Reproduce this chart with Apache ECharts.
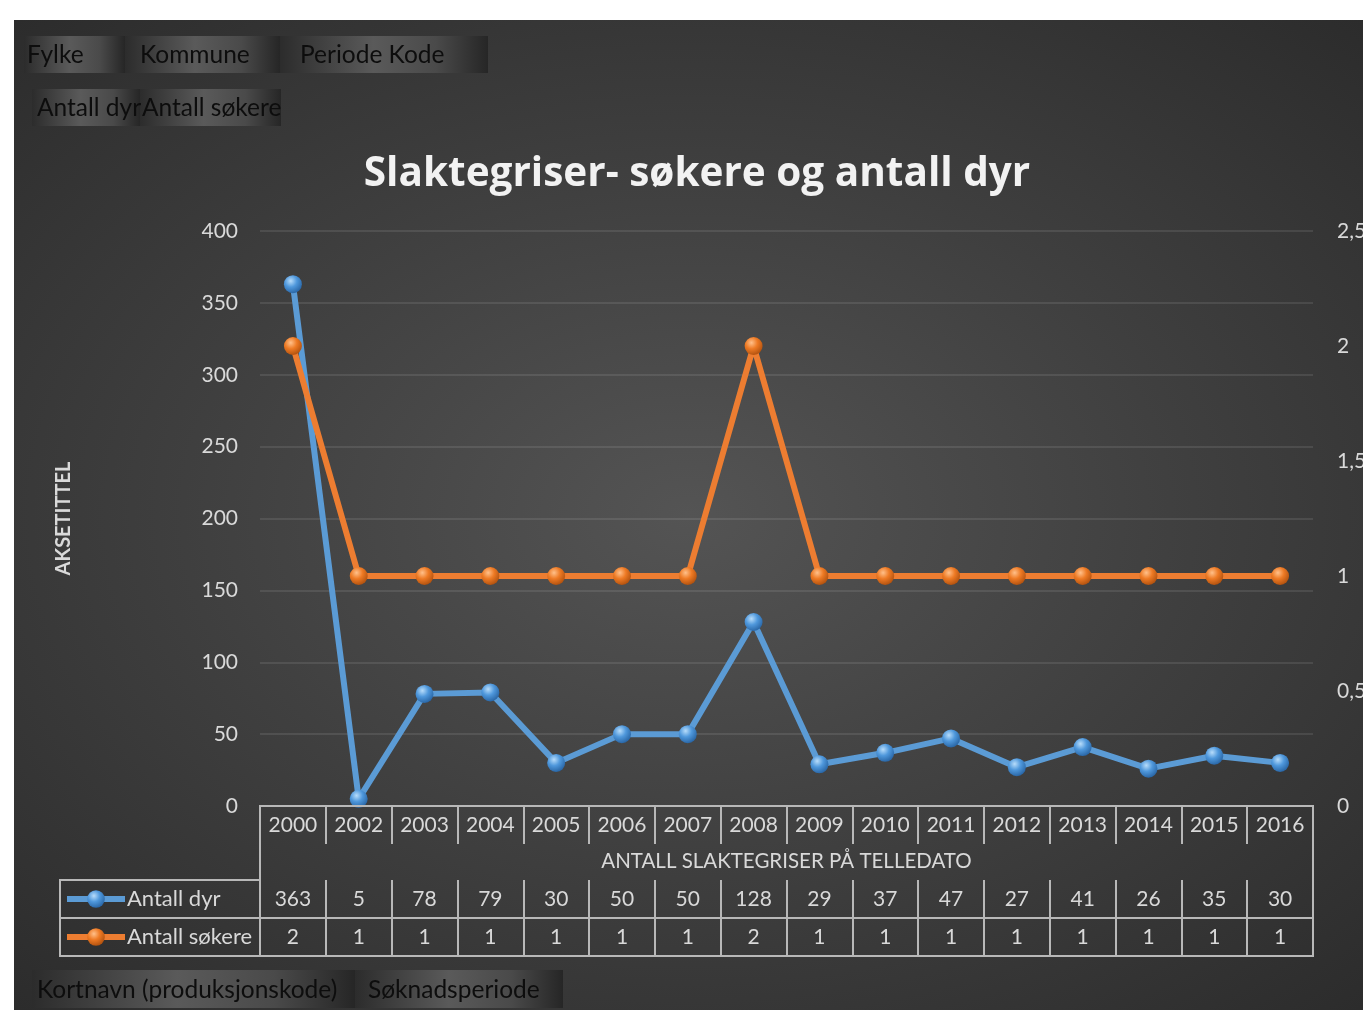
<!DOCTYPE html>
<html>
<head>
<meta charset="utf-8">
<script src="https://cdn.jsdelivr.net/npm/echarts@6/dist/echarts.min.js"></script>
<style>
html,body{margin:0;padding:0;background:#fff;width:1363px;height:1010px;overflow:hidden;}
#c{position:absolute;left:14px;top:20px;width:1349px;height:990px;
background:radial-gradient(ellipse 75% 70% at 50% 50%, #545454 0%, #3f3f3f 50%, #2b2b2b 100%);}
</style>
</head>
<body>
<div id="c"></div>
<script>
const years = ['2000','2002','2003','2004','2005','2006','2007','2008','2009','2010','2011','2012','2013','2014','2015','2016'];
const antallDyr = [363,5,78,79,30,50,50,128,29,37,47,27,41,26,35,30];
const antallSokere = [2,1,1,1,1,1,1,2,1,1,1,1,1,1,1,1];
const leftTicks = {min:0, max:400, interval:50};
const rightTicks = {min:0, max:2.5, interval:0.5};
const titleText = 'Slaktegriser- søkere og antall dyr';
const xAxisTitle = 'ANTALL SLAKTEGRISER PÅ TELLEDATO';
const yAxisTitle = 'AKSETITTEL';
const topButtons = [['Fylke','Kommune','Periode Kode'],['Antall dyr','Antall søkere']];
const bottomButtons = ['Kortnavn (produksjonskode)','Søknadsperiode'];

const FONT = 'Lato, "Open Sans", sans-serif';
const LBL = '#d9d9d9';
const LINEC = '#b8b8b8';

function ballGrad(light, mid, dark){
  return {type:'radial', x:0.38, y:0.32, r:0.75,
    colorStops:[{offset:0,color:light},{offset:0.45,color:mid},{offset:1,color:dark}]};
}
function btnGrad(){
  return {type:'linear', x:0, y:0, x2:1, y2:0,
    colorStops:[{offset:0,color:'#2c2c2c'},{offset:0.45,color:'#5a5a5a'},{offset:0.75,color:'#4a4a4a'},{offset:1,color:'#262626'}]};
}
function button(x, y, w, h, text, tx){
  return [
    {type:'rect', shape:{x:x, y:y, width:w, height:h}, style:{fill:btnGrad()}, z:1},
    {type:'text', x:tx, y:y+h/2+1, style:{text:text, fill:'#0d0d0d', font:'24.5px ' + FONT, verticalAlign:'middle', align:'left'}, z:2}
  ];
}

const graphics = [].concat(
  button(10,16,101,37,topButtons[0][0],13),
  button(111,16,155,37,topButtons[0][1],126),
  button(266,16,208,37,topButtons[0][2],286),
  button(18,69,108,37,topButtons[1][0],23),
  button(126,69,141,37,topButtons[1][1],128),
  button(18,950,323,38,bottomButtons[0],23),
  button(341,950,208,38,bottomButtons[1],354),
  [
    {type:'text', x:683, y:154, style:{text:titleText, fill:'#f2f2f2', font:'bold 40.5px "Open Sans", sans-serif', align:'center', verticalAlign:'middle',
      shadowColor:'rgba(0,0,0,0.7)', shadowBlur:4, shadowOffsetX:2, shadowOffsetY:2}, z:5},
    {type:'rect', shape:{x:246, y:786, width:1053, height:150}, style:{fill:'none', stroke:LINEC, lineWidth:2}, z:5},
    {type:'rect', shape:{x:46, y:860, width:200, height:76}, style:{fill:'none', stroke:LINEC, lineWidth:2}, z:5},
    {type:'line', shape:{x1:46, y1:898, x2:246, y2:898}, style:{stroke:LINEC, lineWidth:2}, z:5}
  ]
);

function tableAxis(data, offset, showLabel, tickLen, inside){
  return {
    type:'category', data:data, position:'bottom', offset:offset, gridIndex:0,
    boundaryGap:true,
    axisLine:{show:true, lineStyle:{color:LINEC, width:2}},
    axisTick:{show:true, interval:0, inside:inside, length:tickLen, lineStyle:{color:LINEC, width:2}},
    axisLabel:{show:showLabel, interval:0, color:LBL, fontSize:21, fontFamily:FONT, margin:9},
    splitLine:{show:false}
  };
}

const el = document.getElementById('c');
const chart = echarts.init(el, null, {renderer:'canvas', width:1349, height:990});
chart.setOption({
  backgroundColor:'transparent',
  animation:false,
  grid:{left:246, top:211, right:50, bottom:204, containLabel:false, outerBoundsMode:'none'},
  legend:{
    orient:'vertical', left:50, top:868, padding:0, itemGap:16,
    itemWidth:58, itemHeight:22,
    lineStyle:{width:6},
    textStyle:{color:LBL, fontSize:22, fontFamily:FONT, padding:[0,0,0,-3]},
    data:['Antall dyr','Antall søkere']
  },
  graphic:graphics,
  xAxis:[
    {
      type:'category', data:years, position:'bottom', boundaryGap:true,
      axisLine:{show:true, lineStyle:{color:LINEC, width:2}},
      axisTick:{show:true, interval:0, length:37, lineStyle:{color:LINEC, width:2}},
      axisLabel:{interval:0, color:LBL, fontSize:21, fontFamily:FONT, margin:9},
      name:xAxisTitle, nameLocation:'middle', nameGap:45,
      nameTextStyle:{color:LBL, fontSize:20.5, fontFamily:FONT}
    },
    tableAxis(antallDyr.map(String), 74, true, 38, false),
    tableAxis(antallSokere.map(String), 112, true, 38, false),
    tableAxis(years, 150, false, 76, true)
  ],
  yAxis:[
    {
      type:'value', min:leftTicks.min, max:leftTicks.max, interval:leftTicks.interval, position:'left',
      axisLine:{show:false}, axisTick:{show:false},
      axisLabel:{color:LBL, fontSize:21, fontFamily:FONT, margin:22},
      splitLine:{show:true, lineStyle:{color:'rgba(255,255,255,0.13)', width:1.5}},
      name:yAxisTitle, nameLocation:'middle', nameGap:186, nameRotate:90,
      nameTextStyle:{color:LBL, fontSize:20, fontWeight:'bold', fontFamily:FONT}
    },
    {
      type:'value', min:rightTicks.min, max:rightTicks.max, interval:rightTicks.interval, position:'right',
      axisLine:{show:false}, axisTick:{show:false},
      axisLabel:{color:LBL, fontSize:21, fontFamily:FONT, margin:24,
        formatter:function(v){return String(v).replace('.', ',');}},
      splitLine:{show:false}
    }
  ],
  series:[
    {
      name:'Antall dyr', type:'line', xAxisIndex:0, yAxisIndex:0, data:antallDyr,
      symbol:'circle', symbolSize:18, z:3,
      lineStyle:{color:'#5b9bd5', width:6},
      itemStyle:{color:ballGrad('#b7dcfa','#4f98dc','#245f9e')}
    },
    {
      name:'Antall søkere', type:'line', xAxisIndex:0, yAxisIndex:1, data:antallSokere,
      symbol:'circle', symbolSize:18, z:4,
      lineStyle:{color:'#ed7d31', width:6},
      itemStyle:{color:ballGrad('#ffc08a','#ee7a24','#a94c0c')}
    }
  ]
});
</script>
</body>
</html>
